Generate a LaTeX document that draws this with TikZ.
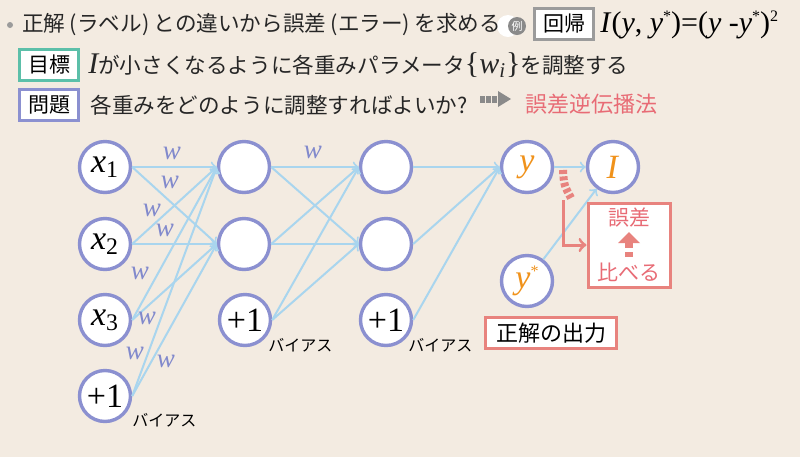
\documentclass[tikz,border=0pt]{standalone}
\usepackage{fontspec}
\setmainfont{Noto Sans CJK JP}
\newfontfamily\tmsfont{Liberation Serif}

\definecolor{bgbeige}{HTML}{F3EBE1}
\definecolor{unitblue}{HTML}{8B90D0}
\definecolor{linkblue}{HTML}{A9D5EE}
\definecolor{wblue}{HTML}{8189CC}
\definecolor{outorange}{HTML}{F0921B}
\definecolor{salmon}{HTML}{E8837E}
\definecolor{pinkred}{HTML}{E86B75}
\definecolor{goalteal}{HTML}{5CBFA9}
\definecolor{boxgray}{HTML}{9B9B9B}
\definecolor{iconGray}{HTML}{8A8A8A}

\newcommand{\starmark}[1]{\raisebox{0.75ex}{\fontsize{8}{8}\selectfont #1}}

\tikzset{
  unit/.style = {circle, draw = unitblue, line width = 1.7pt, fill = white,
    minimum size = 25.5pt, inner sep = 0pt,
    font = \tmsfont\fontsize{17}{17}\selectfont},
  link/.style = {linkblue, line width = 1pt, -to},
  wlabel/.style = {wblue, inner sep = 0pt,
    font = \tmsfont\itshape\fontsize{13.5}{13.5}\selectfont},
  biaslabel/.style = {anchor = west, inner sep = 0pt,
    font = \fontsize{8}{8}\selectfont},
  jtext/.style = {anchor = west, inner sep = 0pt, text = black!85,
    font = \fontsize{10.8}{12}\selectfont},
  tagbox/.style = {draw = #1, line width = 1.5pt, fill = white,
    inner sep = 0pt, minimum width = 29.5pt, minimum height = 15.5pt,
    font = \fontsize{10.5}{12}\selectfont}
}

\begin{document}
\begin{tikzpicture}[x = 0.5pt, y = -0.5pt]
  \fill[bgbeige] (0, 0) rectangle (800, 457);
  \useasboundingbox (0, 0) rectangle (800, 457);

  % first line
  \fill[boxgray] (10, 25) circle[radius = 1.5pt];
  \fill[white] (508, 26) circle[radius = 5.5pt];
  \node[jtext] (intro) at (22, 25) {正解\hspace{2.2pt}(ラベル)\hspace{2.2pt}との違いから誤差\hspace{2.2pt}(エラー)\hspace{2.2pt}を求める};
  \node[circle, fill = iconGray, text = white, inner sep = 0pt,
  minimum size = 9pt, font = \fontsize{5.5}{6}\selectfont] (eg) at (517, 26) {例};
  \node[tagbox = boxgray] (kind) at (564, 24) {回帰};
  \node[anchor = west, inner sep = 0pt, font = \tmsfont\fontsize{15}{15}\selectfont]
  (lossdef) at (600, 25) {\textit{I}(\textit{y}, \textit{y}\starmark{*})=(\textit{y}
    -\textit{y}\starmark{*})\starmark{2}};

  % second and third line
  \node[tagbox = goalteal] (goal) at (49, 65) {目標};
  \node[jtext] (goaltext) at (88, 65) {{\tmsfont\itshape\fontsize{15}{15}\selectfont
      I}が小さくなるように各重みパラメータ{\tmsfont\fontsize{15}{15}\selectfont
      \{\textit{w}\textsubscript{\textit{i}}\}}を調整する};
  \node[tagbox = unitblue] (task) at (49, 105) {問題};
  \node[jtext] (tasktext) at (90, 105) {各重みをどのように調整すればよいか?};
  \draw[iconGray, line width = 3.5pt, dash pattern = on 2.4pt off 0.7pt]
  (480, 99) -- (497, 99);
  \fill[iconGray] (498, 91) -- (511, 99) -- (498, 107) -- cycle;
  \node[jtext, text = pinkred, font = \fontsize{11}{12}\selectfont] (bp) at (525, 104)
  {誤差逆伝播法};

  % units
  \node[unit] (X1) at (105, 167) {\textit{x}\textsubscript{1}};
  \node[unit] (X2) at (105, 244) {\textit{x}\textsubscript{2}};
  \node[unit] (X3) at (105, 320) {\textit{x}\textsubscript{3}};
  \node[unit] (B1) at (105, 396) {+1};
  \node[unit] (H1) at (244, 167) {};
  \node[unit] (H2) at (244, 244) {};
  \node[unit] (B2) at (245, 320) {+1};
  \node[unit] (G1) at (386, 167) {};
  \node[unit] (G2) at (386, 244) {};
  \node[unit] (B3) at (386, 320) {+1};
  \node[unit, text = outorange] (Y) at (527, 167) {\textit{y}};
  \node[unit, text = outorange] (T) at (527, 281) {\textit{y}\starmark{*}};
  \node[unit, text = outorange] (L) at (613, 167) {\textit{I}};

  \node[biaslabel] (bias1) at (132, 420) {バイアス};
  \node[biaslabel] (bias2) at (268, 345) {バイアス};
  \node[biaslabel] (bias3) at (408, 345) {バイアス};

  % connections
  \draw[link] (X1.east) -- (H1.west);
  \draw[link] (X1.east) -- (H2.west);
  \draw[link] (X2.east) -- (H1.west);
  \draw[link] (X2.east) -- (H2.west);
  \draw[link] (X3.east) -- (H1.west);
  \draw[link] (X3.east) -- (H2.west);
  \draw[link] (B1.east) -- (H1.west);
  \draw[link] (B1.east) -- (H2.west);
  \draw[link] (H1.east) -- (G1.west);
  \draw[link] (H1.east) -- (G2.west);
  \draw[link] (H2.east) -- (G1.west);
  \draw[link] (H2.east) -- (G2.west);
  \draw[link] (B2.east) -- (G1.west);
  \draw[link] (B2.east) -- (G2.west);
  \draw[link] (G1.east) -- (Y.west);
  \draw[link] (G2.east) -- (Y.west);
  \draw[link] (B3.east) -- (Y.west);
  \draw[link] (Y.east) -- (L.west);
  \draw[link] (T) -- (L);

  \node[wlabel] (w1) at (172, 153) {w};
  \node[wlabel] (w2) at (170, 182) {w};
  \node[wlabel] (w3) at (152, 210) {w};
  \node[wlabel] (w4) at (165, 230) {w};
  \node[wlabel] (w5) at (140, 273) {w};
  \node[wlabel] (w6) at (147, 318) {w};
  \node[wlabel] (w7) at (135, 353) {w};
  \node[wlabel] (w8) at (166, 361) {w};
  \node[wlabel] (w9) at (313, 152) {w};

  % comparison with the correct output
  \node[draw = salmon, line width = 1.5pt, fill = white, minimum width = 41pt,
  minimum height = 42pt] (cmp) at (629, 245) {};
  \node[inner sep = 0pt, text = pinkred, font = \fontsize{10.5}{12}\selectfont]
  (errtext) at (629, 218) {誤差};
  \node[inner sep = 0pt, text = pinkred, font = \fontsize{10.5}{12}\selectfont]
  (cmptext) at (629, 272) {比べる};
  \fill[salmon] (618, 243) -- (629, 232) -- (640, 243) -- cycle;
  \draw[salmon, line width = 4pt, dash pattern = on 2.5pt off 2pt]
  (629, 243) -- (629, 258);

  \draw[salmon, line width = 4pt, dash pattern = on 2pt off 1.2pt]
  (563, 170) .. controls (564, 185) .. (571, 198);
  \coordinate (tap) at (563, 200);
  \draw[salmon, line width = 1.5pt, -to] (tap) |- (cmp.west);

  \node[draw = salmon, line width = 1.5pt, fill = white, inner sep = 0pt,
  minimum width = 65.5pt, minimum height = 15.5pt,
  font = \fontsize{11}{12}\selectfont] (truth) at (551, 333) {正解の出力};
\end{tikzpicture}
\end{document}
